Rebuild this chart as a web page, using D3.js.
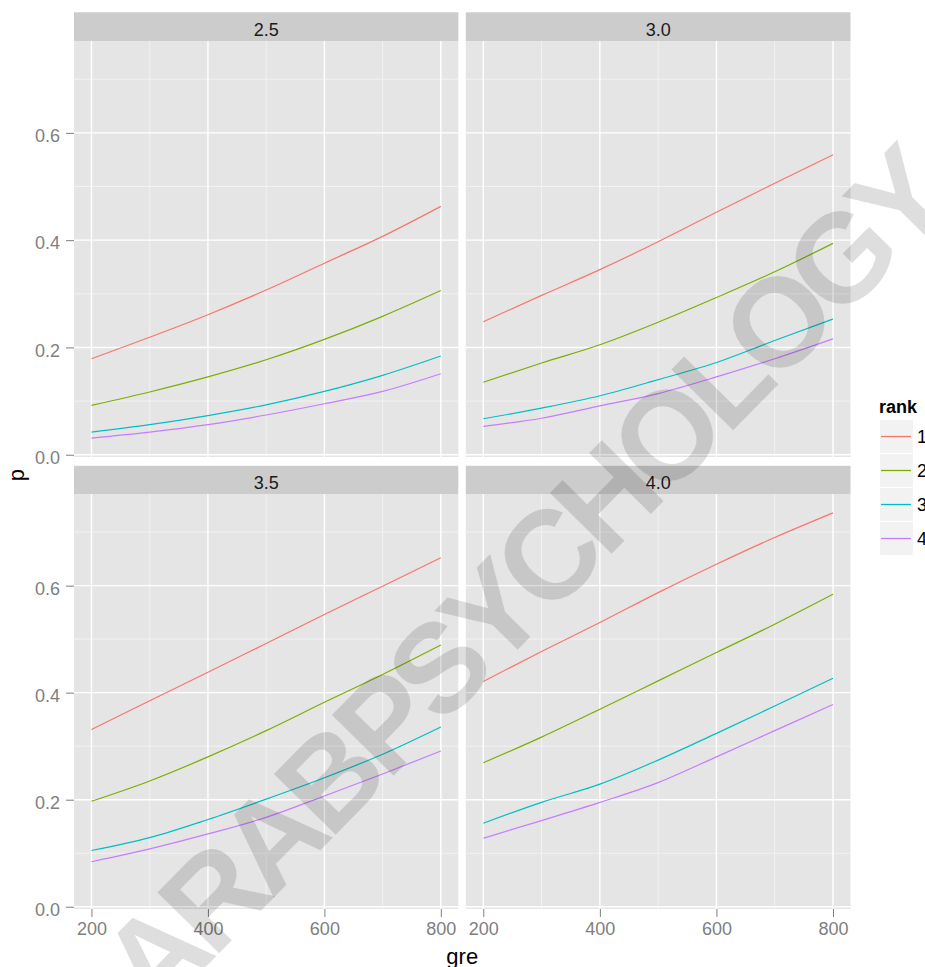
<!DOCTYPE html>
<html>
<head>
<meta charset="utf-8">
<script src="https://cdn.jsdelivr.net/npm/d3@7"></script>
<style>
  html, body { margin: 0; padding: 0; background: #ffffff; }
  svg { display: block; }
  text { font-family: "Liberation Sans", Arial, "DejaVu Sans", sans-serif; }
</style>
</head>
<body>
<svg id="chart" width="925" height="967"></svg>
<script>
// ---------------- data ----------------
const gre = [200, 300, 400, 500, 600, 700, 800];
const gpaLevels = ["2.5", "3.0", "3.5", "4.0"];
const ranks = ["1", "2", "3", "4"];
const rankColors = ["#F8766D", "#7CAE00", "#00BFC4", "#C77CFF"];

const xTicks = [200, 400, 600, 800];
const xMinorTicks = [300, 500, 700];
const yTicks = [0.0, 0.2, 0.4, 0.6];
const yMinorTicks = [0.1, 0.3, 0.5, 0.7];

// gpa = 2.5
const p25_rank1 = [0.179, 0.219, 0.261, 0.307, 0.357, 0.407, 0.463];
const p25_rank2 = [0.092, 0.117, 0.145, 0.177, 0.215, 0.258, 0.306];
const p25_rank3 = [0.042, 0.056, 0.073, 0.093, 0.118, 0.148, 0.184];
const p25_rank4 = [0.031, 0.042, 0.056, 0.074, 0.095, 0.118, 0.151];
// gpa = 3.0
const p30_rank1 = [0.248, 0.297, 0.345, 0.397, 0.452, 0.506, 0.559];
const p30_rank2 = [0.135, 0.171, 0.205, 0.247, 0.293, 0.341, 0.394];
const p30_rank3 = [0.067, 0.087, 0.110, 0.140, 0.172, 0.213, 0.253];
const p30_rank4 = [0.053, 0.068, 0.091, 0.114, 0.145, 0.179, 0.216];
// gpa = 3.5
const p35_rank1 = [0.331, 0.385, 0.438, 0.492, 0.546, 0.599, 0.652];
const p35_rank2 = [0.197, 0.235, 0.280, 0.329, 0.382, 0.434, 0.489];
const p35_rank3 = [0.105, 0.129, 0.163, 0.201, 0.241, 0.285, 0.336];
const p35_rank4 = [0.084, 0.108, 0.136, 0.167, 0.207, 0.248, 0.291];
// gpa = 4.0
const p40_rank1 = [0.421, 0.477, 0.531, 0.587, 0.640, 0.690, 0.736];
const p40_rank2 = [0.269, 0.317, 0.369, 0.422, 0.475, 0.528, 0.584];
const p40_rank3 = [0.156, 0.195, 0.229, 0.274, 0.324, 0.375, 0.427];
const p40_rank4 = [0.128, 0.161, 0.195, 0.232, 0.280, 0.329, 0.378];

const watermarkText = "ARABPSYCHOLOGY";

// table built from the arrays
const seriesByGpa = [
  [p25_rank1, p25_rank2, p25_rank3, p25_rank4],
  [p30_rank1, p30_rank2, p30_rank3, p30_rank4],
  [p35_rank1, p35_rank2, p35_rank3, p35_rank4],
  [p40_rank1, p40_rank2, p40_rank3, p40_rank4]
];

// ---------------- layout ----------------
const svg = d3.select("#chart");
const cols = [{x0: 74, x1: 458.3}, {x0: 465.8, x1: 850.5}];
const rows = [{s0: 12.3, p0: 41, p1: 457}, {s0: 465.8, p0: 494, p1: 909}];

const allVals = seriesByGpa.flat(2);
const yMin = d3.min(allVals), yMax = d3.max(allVals);
const yPad = (yMax - yMin) * 0.05;
const xPad = (d3.max(gre) - d3.min(gre)) * 0.05;

const tickColor = "#7f7f7f";
const fontTick = 18;

gpaLevels.forEach((g, i) => {
  const c = cols[i % 2], r = rows[Math.floor(i / 2)];
  const x = d3.scaleLinear().domain([d3.min(gre) - xPad, d3.max(gre) + xPad]).range([c.x0, c.x1]);
  const y = d3.scaleLinear().domain([yMin - yPad, yMax + yPad]).range([r.p1, r.p0]);
  const gp = svg.append("g");

  // strip
  gp.append("rect").attr("x", c.x0).attr("y", r.s0).attr("width", c.x1 - c.x0).attr("height", r.p0 - r.s0)
    .attr("fill", "#cccccc");
  gp.append("text").attr("x", (c.x0 + c.x1) / 2).attr("y", r.p0 - 4.8)
    .attr("text-anchor", "middle").attr("font-size", fontTick).attr("fill", "#1a1a1a").text(g);

  // panel background
  gp.append("rect").attr("x", c.x0).attr("y", r.p0).attr("width", c.x1 - c.x0).attr("height", r.p1 - r.p0)
    .attr("fill", "#e5e5e5");

  // minor grid
  gp.selectAll(".vminor").data(xMinorTicks).join("line")
    .attr("x1", d => x(d)).attr("x2", d => x(d)).attr("y1", r.p0).attr("y2", r.p1)
    .attr("stroke", "#f2f2f2").attr("stroke-width", 1);
  gp.selectAll(".hminor").data(yMinorTicks).join("line")
    .attr("y1", d => y(d)).attr("y2", d => y(d)).attr("x1", c.x0).attr("x2", c.x1)
    .attr("stroke", "#f2f2f2").attr("stroke-width", 1);
  // major grid
  gp.selectAll(".vmajor").data(xTicks).join("line")
    .attr("x1", d => x(d)).attr("x2", d => x(d)).attr("y1", r.p0).attr("y2", r.p1)
    .attr("stroke", "#ffffff").attr("stroke-width", 1.4);
  gp.selectAll(".hmajor").data(yTicks).join("line")
    .attr("y1", d => y(d)).attr("y2", d => y(d)).attr("x1", c.x0).attr("x2", c.x1)
    .attr("stroke", "#ffffff").attr("stroke-width", 1.4);

  // lines
  const line = d3.line().x((d, k) => x(gre[k])).y(d => y(d)).curve(d3.curveMonotoneX);
  seriesByGpa[i].forEach((vals, k) => {
    gp.append("path").attr("d", line(vals)).attr("fill", "none")
      .attr("stroke", rankColors[k]).attr("stroke-width", 1.2);
  });

  // y axis (left column)
  if (i % 2 === 0) {
    const ya = svg.append("g").attr("transform", `translate(${c.x0},0)`)
      .call(d3.axisLeft(y).tickValues(yTicks).tickFormat(d3.format(".1f")).tickSize(8).tickPadding(6));
    ya.select(".domain").remove();
    ya.selectAll(".tick line").attr("stroke", tickColor).attr("stroke-width", 1);
    ya.selectAll(".tick text").attr("fill", tickColor).attr("font-size", fontTick)
      .attr("font-family", null).attr("dy", "0.48em");
  }
  // x axis (bottom row)
  if (Math.floor(i / 2) === 1) {
    const xa = svg.append("g").attr("transform", `translate(0,${r.p1})`)
      .call(d3.axisBottom(x).tickValues(xTicks).tickFormat(d3.format("d")).tickSize(8).tickPadding(5));
    xa.select(".domain").remove();
    xa.selectAll(".tick line").attr("stroke", tickColor).attr("stroke-width", 1);
    xa.selectAll(".tick text").attr("fill", tickColor).attr("font-size", fontTick)
      .attr("font-family", null);
  }
});

// axis titles
svg.append("text").attr("x", (cols[0].x0 + cols[1].x1) / 2).attr("y", 964)
  .attr("text-anchor", "middle").attr("font-size", 22).attr("fill", "#000").text("gre");
svg.append("text").attr("transform", `translate(24,${(rows[0].p0 + rows[1].p1) / 2}) rotate(-90)`)
  .attr("text-anchor", "middle").attr("font-size", 22).attr("fill", "#000").text("p");

// legend
const lg = svg.append("g");
lg.append("text").attr("x", 879).attr("y", 413).attr("font-size", 18).attr("font-weight", "bold")
  .attr("fill", "#000").text("rank");
const keyY = d3.scaleBand().domain(ranks).range([419.5, 555.5]);
ranks.forEach((rk, k) => {
  const y0 = keyY(rk), h = keyY.bandwidth();
  lg.append("rect").attr("x", 879.5).attr("y", y0).attr("width", 34).attr("height", h)
    .attr("fill", "#f2f2f2").attr("stroke", "#ffffff").attr("stroke-width", 1.2);
  lg.append("line").attr("x1", 881).attr("x2", 911).attr("y1", y0 + h / 2).attr("y2", y0 + h / 2)
    .attr("stroke", rankColors[k]).attr("stroke-width", 1.3);
  lg.append("text").attr("x", 917).attr("y", y0 + h / 2 + 6.5).attr("font-size", 18)
    .attr("fill", "#000").text(rk);
});

// watermark
svg.append("text").attr("transform", "translate(524,581) rotate(-45.5)")
  .attr("text-anchor", "middle").attr("dominant-baseline", "central")
  .attr("font-size", 126).attr("font-weight", "bold").attr("letter-spacing", -8)
  .attr("fill", "#000").attr("fill-opacity", 0.13)
  .text(watermarkText);
</script>
</body>
</html>
